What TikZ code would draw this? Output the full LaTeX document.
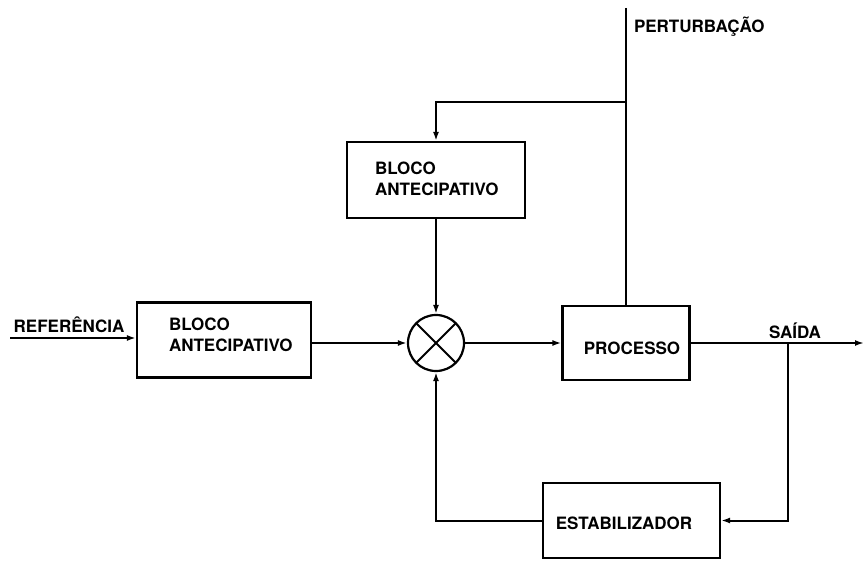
\documentclass[tikz,border=0pt]{standalone}
\usepackage{fontspec}
\setmainfont{TeX Gyre Heros}
\usetikzlibrary{arrows.meta,calc}
\begin{document}
\begin{tikzpicture}[x=1pt,y=-1pt,
  line width=2pt,
  every node/.style={font=\fontsize{17}{21}\selectfont\bfseries},
  blockbox/.style={draw,rectangle,inner sep=0pt,line width=2.2pt},
  tag/.style={inner sep=0pt},
  arr/.style={-{Latex[length=9pt,width=6pt]}},
  sumnode/.style={draw,circle,minimum size=56pt,inner sep=0pt,line width=2.2pt,
    path picture={\draw[line width=2pt] (path picture bounding box.north west) ++(8,8) -- ($(path picture bounding box.south east)+(-8,-8)$);
                  \draw[line width=2pt] (path picture bounding box.north east) ++(-8,8) -- ($(path picture bounding box.south west)+(8,-8)$);}}
]
\useasboundingbox (0,0) rectangle (865,561);

% blocks
\node[blockbox,minimum width=178pt,minimum height=76pt] (ff) at (436,180) {};
\node[tag,anchor=west,align=left] (fftext) at (374,179) {BLOCO\\ANTECIPATIVO};
\node[blockbox,minimum width=174pt,minimum height=75pt] (lb) at (224,340) {};
\node[tag,anchor=west,align=left] (lbtext) at (168,335) {BLOCO\\ANTECIPATIVO};
\node[blockbox,minimum width=127pt,minimum height=74pt] (proc) at (626,343) {};
\node[tag] (proctext) at (632,348) {PROCESSO};
\node[blockbox,minimum width=177pt,minimum height=75pt] (stab) at (631.5,520.5) {};
\node[tag] (stabtext) at (624,523) {ESTABILIZADOR};
\node[sumnode] (sum) at (436,343) {};

% labels
\node[tag,anchor=west] (pert) at (633,27) {PERTURBAÇÃO};
\node[tag] (ref) at (69,325) {REFERÊNCIA};
\node[tag] (out) at (795,331) {SAÍDA};

% coordinates
\coordinate (ptop) at (626,8);
\coordinate (pj) at (626,102);
\coordinate (refin) at (10,338);
\coordinate (outend) at (864,343);
\coordinate (br) at (788,343);

% connectors
\draw (ptop) -- (proc.north);
\draw[arr] (pj) -| (ff.north);
\draw[arr] (ff.south) -- (sum.north);
\draw[arr] (refin) -- (refin -| lb.west);
\draw[arr] (lb.east |- sum.west) -- (sum.west);
\draw[arr] (sum.east) -- (proc.west);
\draw[arr] (proc.east) -- (outend);
\draw[arr] (br) |- (stab.east);
\draw[arr] (stab.west) -| (sum.south);
\end{tikzpicture}
\end{document}
